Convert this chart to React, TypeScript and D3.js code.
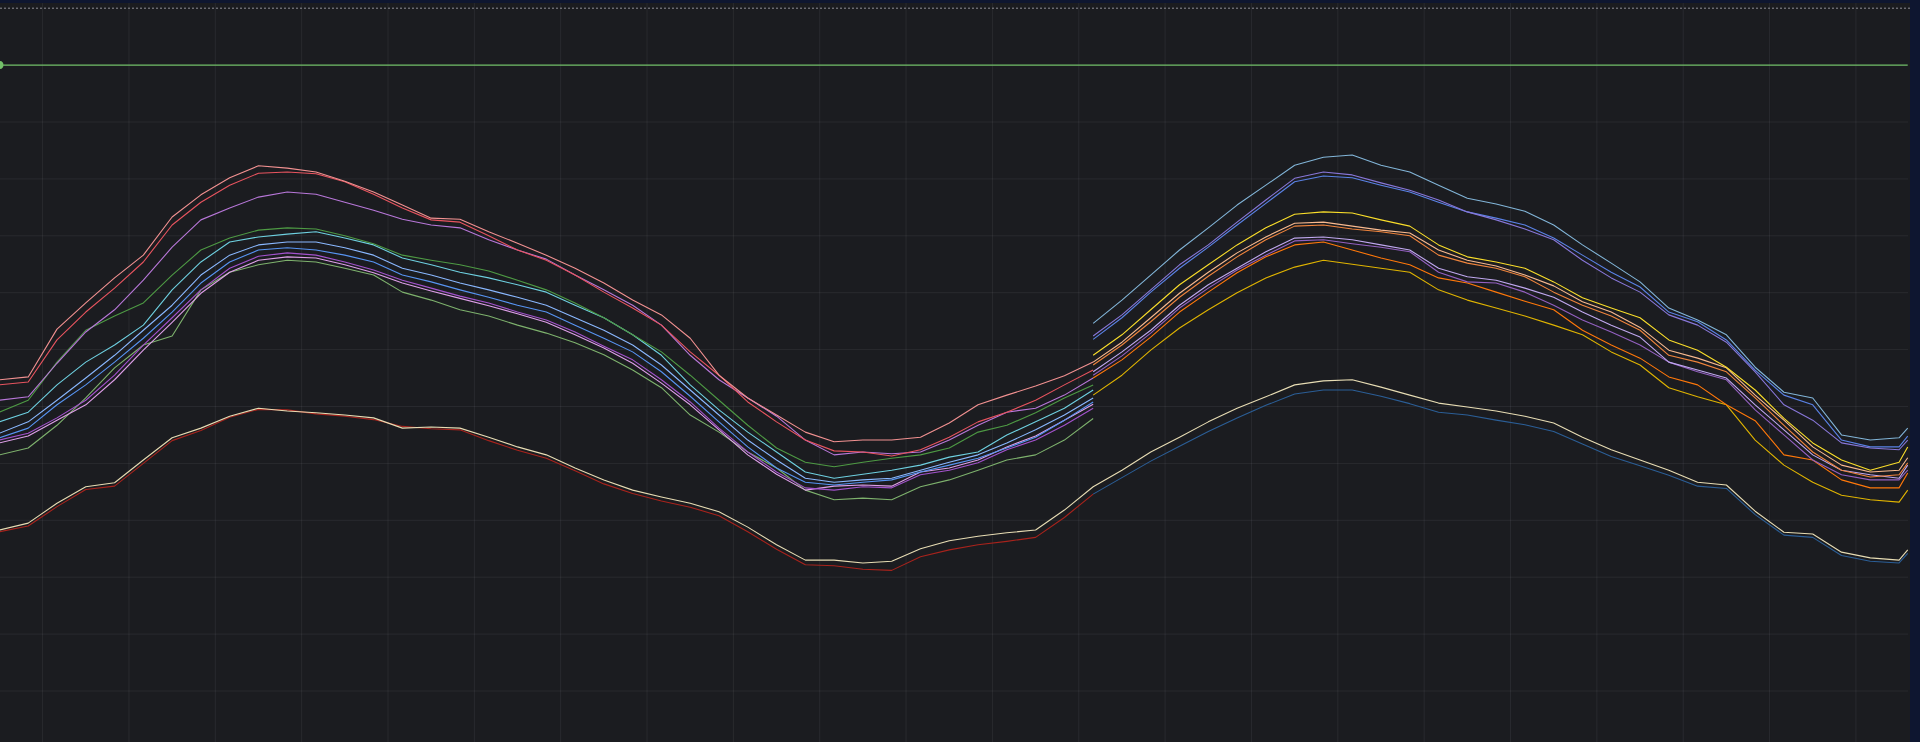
import React from 'react';
import * as d3 from 'd3';

// ---- time samples (minutes) ----
const sampleTimes: number[] = d3.range(15, 676, 10).concat([678]);
const LEFT_START = 0;   // index of first sample for left-hand series
const RIGHT_START = 38; // index of first sample for right-hand series

// ---- reference lines ----
const limitValue = 110;
const upperThreshold = 120;

// ---- left-hand series (samples 0..38) ----
const sSalmon = [54.7,55.2,63.6,68.2,72.6,76.6,83.3,87.2,90.2,92.3,91.9,91.2,89.6,87.7,85.4,83.1,82.9,80.7,78.7,76.6,74.3,71.7,68.7,66.1,62.0,55.5,51.5,48.5,45.5,43.8,44.1,44.1,44.6,47.1,50.3,52.0,53.6,55.4,57.8];
const sRed = [53.8,54.3,61.7,66.6,70.8,75.4,81.9,85.9,88.9,91.0,91.2,90.9,89.5,87.3,84.9,82.8,82.4,80.0,77.5,75.7,73.1,70.1,67.3,64.3,59.6,55.5,50.8,47.3,44.1,42.2,42.0,41.3,42.4,44.6,47.3,49.0,51.1,53.8,56.4];
const sOrchid = [51.1,51.7,57.6,63.1,67.0,72.2,78.0,82.8,84.9,86.8,87.7,87.3,85.9,84.5,82.9,81.9,81.4,79.3,77.5,75.9,73.1,70.5,67.8,64.3,59.0,54.7,51.5,48.3,44.1,41.5,42.0,41.7,42.0,44.1,46.7,49.0,49.7,52.0,55.0];
const sDarkGreen = [49.0,51.1,57.8,63.4,65.9,68.2,73.1,77.5,79.6,81.0,81.4,81.2,80.0,78.6,76.6,75.7,74.9,73.8,72.2,70.5,68.2,65.6,62.6,59.6,55.5,51.1,46.7,42.7,40.2,39.4,40.2,40.9,41.5,42.7,45.5,46.7,48.9,51.5,53.8];
const sCyan = [47.3,49.0,53.8,57.8,60.8,64.3,70.5,75.4,78.9,79.8,80.3,80.7,79.6,78.4,76.1,74.9,73.6,72.6,71.4,70.1,67.8,65.6,62.6,59.0,53.8,49.4,45.5,42.0,38.5,37.4,38.1,38.8,39.7,41.1,42.0,45.0,47.3,49.7,52.9];
const sLightBlue = [45.3,47.3,51.1,55.0,59.0,63.4,67.8,73.1,76.6,78.4,78.9,78.9,77.9,76.6,74.3,73.1,71.7,70.5,69.2,67.8,65.6,63.4,60.8,57.3,52.9,48.5,44.1,40.6,37.4,36.7,37.1,37.4,38.8,40.2,41.5,43.6,45.9,48.5,51.5];
const sBlue = [44.5,46.2,50.3,53.8,57.8,62.0,66.6,71.7,75.4,77.5,77.9,77.5,76.6,75.4,73.1,71.9,70.5,69.2,67.8,66.6,64.3,62.0,59.6,56.1,51.8,47.3,42.9,39.2,36.7,36.2,36.7,37.1,38.5,39.7,40.9,42.7,44.6,47.6,50.8];
const sViolet = [44.1,45.3,48.0,51.1,55.5,60.8,65.6,70.5,74.3,76.4,77.0,76.6,75.4,74.0,72.2,70.8,69.4,68.2,66.6,65.2,63.1,60.6,58.2,54.7,50.8,46.2,42.0,38.5,35.7,35.3,35.9,35.7,38.0,38.8,40.1,42.4,44.1,46.7,49.7];
const sPink = [43.6,44.8,47.6,50.3,54.7,59.9,64.8,69.9,73.6,75.7,76.3,76.1,74.9,73.5,71.7,70.3,69.0,67.7,66.3,64.8,62.6,60.3,57.6,54.1,50.3,45.9,41.5,38.1,35.3,36.0,36.2,36.0,38.5,39.2,40.6,42.9,44.8,47.6,50.4];
const sLightGreen = [41.5,42.7,46.7,51.5,56.8,60.8,62.4,70.5,73.6,74.9,75.7,75.4,74.3,73.1,70.1,68.7,67.0,65.9,64.3,62.9,61.2,59.1,56.4,53.3,48.5,45.5,42.0,39.2,35.3,33.6,33.9,33.6,35.9,37.1,38.8,40.6,41.5,44.1,47.9];

// ---- right-hand series (samples 38..67) ----
const rSteel = [64.6,68.7,73.1,77.5,81.4,85.4,88.9,92.4,93.8,94.2,92.4,91.2,88.9,86.6,85.6,84.3,81.9,78.4,75.2,71.9,67.3,65.2,62.6,56.9,52.5,51.5,45.0,44.1,44.5,46.2];
const rIndigo = [62.4,66.1,70.5,74.9,78.4,82.4,86.3,90.1,91.2,90.7,89.3,88.0,86.3,84.2,82.8,81.2,79.3,75.7,72.6,70.1,66.1,64.3,61.3,56.1,50.3,47.6,43.6,42.7,42.4,44.1];
const rBlue = [61.8,65.6,70.1,74.3,78.0,81.9,85.7,89.5,90.5,90.2,88.9,87.7,85.9,84.2,83.1,81.9,79.6,76.6,73.6,71.0,66.6,64.9,61.7,56.4,52.0,50.3,44.1,42.9,42.9,44.8];
const rYellow = [59.0,62.6,67.0,71.4,74.9,78.4,81.4,83.8,84.2,84.0,82.8,81.7,78.4,76.3,75.4,74.3,71.9,69.1,67.3,65.6,61.7,59.9,56.9,52.9,47.9,43.6,40.6,38.8,40.2,42.9];
const rPeach = [57.8,61.3,65.6,69.9,73.6,77.0,79.8,82.2,82.4,81.7,81.0,80.5,77.5,75.7,74.7,73.1,71.2,68.4,66.6,63.9,59.9,58.5,56.8,52.0,47.6,42.9,39.7,38.5,38.8,41.0];
const rOrange = [57.3,60.8,64.9,69.2,72.9,76.3,79.3,81.7,81.9,81.2,80.7,80.0,76.6,75.2,74.3,72.8,70.1,67.8,65.9,63.4,59.0,57.8,56.1,51.5,46.7,42.0,38.8,37.6,38.0,40.1];
const rLavender = [56.1,59.6,63.4,67.8,71.4,74.3,77.2,79.6,79.8,79.3,78.4,77.5,74.3,72.8,72.2,70.8,69.2,66.6,64.3,62.2,57.8,56.4,55.0,50.3,45.9,41.5,38.8,38.0,37.4,39.7];
const rPurple = [55.5,58.9,62.9,67.3,70.8,74.0,76.6,79.1,79.3,78.6,78.0,77.2,73.6,71.9,71.7,70.1,67.8,65.2,63.1,60.8,57.8,56.1,54.7,49.4,45.0,40.6,38.0,37.1,37.1,38.8];
const rDeepOrange = [55.0,58.2,62.2,66.6,70.1,73.5,76.3,78.4,78.9,77.5,76.1,74.9,72.6,71.7,70.1,68.5,67.0,63.4,60.8,58.5,55.2,53.8,50.3,47.5,41.5,40.6,37.1,35.7,35.7,38.3];
const rGold = [52.0,55.5,59.9,63.8,67.0,70.0,72.6,74.5,75.7,75.0,74.3,73.6,70.5,68.7,67.3,65.9,64.3,62.6,59.6,57.3,53.3,51.7,50.3,44.1,39.7,36.7,34.4,33.6,33.2,35.3];

// ---- low pair ----
const lowCream = [28.3,29.5,33.0,35.9,36.6,40.6,44.5,46.2,48.3,49.7,49.2,48.9,48.5,48.0,46.2,46.4,46.2,44.6,42.9,41.5,39.2,37.1,35.3,34.1,33.0,31.5,28.8,25.7,23.0,23.0,22.5,22.8,25.0,26.4,27.2,27.8,28.3,31.8,35.9,38.8,42.0,44.6,47.3,49.7,51.7,53.8,54.5,54.7,53.4,52.0,50.6,49.9,49.2,48.3,47.1,44.6,42.4,40.6,38.8,36.7,36.2,31.6,27.9,27.6,24.4,23.4,23.0,24.8];
const lowDarkRed = [28.0,29.0,32.4,35.4,36.0,40.0,44.0,45.8,48.1,49.5,49.4,48.7,48.3,47.7,46.5,46.1,45.9,44.0,42.3,40.9,38.7,36.4,34.7,33.4,32.3,30.8,28.0,24.9,22.2,22.0,21.4,21.2,23.6,24.8,25.7,26.3,27.0,30.5,34.6];
const lowDarkBlue = [34.6,37.5,40.4,43.0,45.6,48.0,50.2,52.2,52.9,52.9,51.8,50.5,49.0,48.5,47.6,46.8,45.6,43.4,41.2,39.6,37.9,36.0,35.6,31.0,27.4,27.0,23.8,22.8,22.5,24.2];

type SeriesDef = { name: string; color: string; values: number[]; start: number };

const series: SeriesDef[] = [
  { name: 'low-darkred', color: '#A8231C', values: lowDarkRed, start: LEFT_START },
  { name: 'low-darkblue', color: '#2B5E96', values: lowDarkBlue, start: RIGHT_START },
  { name: 'low-cream', color: '#E8DDB4', values: lowCream, start: LEFT_START },
  { name: 'l-lightgreen', color: '#7EB26D', values: sLightGreen, start: LEFT_START },
  { name: 'l-pink', color: '#DE9FE8', values: sPink, start: LEFT_START },
  { name: 'l-violet', color: '#A352CC', values: sViolet, start: LEFT_START },
  { name: 'l-blue', color: '#5794F2', values: sBlue, start: LEFT_START },
  { name: 'l-lightblue', color: '#8AB8FF', values: sLightBlue, start: LEFT_START },
  { name: 'l-cyan', color: '#6ED0E0', values: sCyan, start: LEFT_START },
  { name: 'l-darkgreen', color: '#4E9A44', values: sDarkGreen, start: LEFT_START },
  { name: 'l-orchid', color: '#B877D9', values: sOrchid, start: LEFT_START },
  { name: 'l-red', color: '#E8545F', values: sRed, start: LEFT_START },
  { name: 'l-salmon', color: '#F29191', values: sSalmon, start: LEFT_START },
  { name: 'r-gold', color: '#E0B400', values: rGold, start: RIGHT_START },
  { name: 'r-deeporange', color: '#FF780A', values: rDeepOrange, start: RIGHT_START },
  { name: 'r-purple', color: '#9360C0', values: rPurple, start: RIGHT_START },
  { name: 'r-lavender', color: '#C0A8F0', values: rLavender, start: RIGHT_START },
  { name: 'r-orange', color: '#EF843C', values: rOrange, start: RIGHT_START },
  { name: 'r-peach', color: '#F9BA8F', values: rPeach, start: RIGHT_START },
  { name: 'r-yellow', color: '#FADE2A', values: rYellow, start: RIGHT_START },
  { name: 'r-blue', color: '#5A82E6', values: rBlue, start: RIGHT_START },
  { name: 'r-indigo', color: '#8877D9', values: rIndigo, start: RIGHT_START },
  { name: 'r-steel', color: '#82B5D8', values: rSteel, start: RIGHT_START },
];

const W = 1920;
const H = 742;
const PLOT_RIGHT = 1908;
const PANEL_RIGHT = 1910;

export default function App() {
  const x = d3.scaleLinear().domain([15.2, 678.1]).range([0, PLOT_RIGHT]);
  const y = d3.scaleLinear().domain([0, 120]).range([691, 8.2]);

  const gridX = d3.range(30, 678, 30);
  const gridY = d3.range(0, 101, 10);

  const line = d3
    .line<[number, number]>()
    .x((d) => x(d[0]))
    .y((d) => y(d[1]));

  React.useEffect(() => {
    document.body.style.margin = '0';
    document.body.style.background = '#0e1630';
  }, []);

  return (
    <svg
      width={W}
      height={H}
      style={{ position: 'fixed', left: 0, top: 0, display: 'block' }}
    >
      <rect x={0} y={0} width={W} height={H} fill="#0e1630" />
      <rect x={0} y={3} width={PANEL_RIGHT} height={H - 3} fill="#1b1c20" />
      <g stroke="rgba(204,204,220,0.08)" strokeWidth={1}>
        {gridX.map((t) => (
          <line key={'gx' + t} x1={x(t)} x2={x(t)} y1={3} y2={H} />
        ))}
        {gridY.map((v) => (
          <line key={'gy' + v} x1={0} x2={PLOT_RIGHT} y1={y(v)} y2={y(v)} />
        ))}
      </g>
      <line
        x1={0}
        x2={PANEL_RIGHT}
        y1={y(upperThreshold)}
        y2={y(upperThreshold)}
        stroke="#8e8e96"
        strokeWidth={1}
        strokeDasharray="2,2"
      />
      <g fill="none" strokeWidth={1.1} strokeLinejoin="round">
        {series.map((s) => {
          const pts: [number, number][] = s.values.map((v, i) => [sampleTimes[s.start + i], v]);
          return <path key={s.name} d={line(pts) || ''} stroke={s.color} />;
        })}
      </g>
      <line
        x1={x(sampleTimes[0])}
        x2={x(sampleTimes[sampleTimes.length - 1])}
        y1={y(limitValue)}
        y2={y(limitValue)}
        stroke="#73BF69"
        strokeWidth={1.2}
      />
      <circle cx={x(sampleTimes[0])} cy={y(limitValue)} r={4} fill="#73BF69" />
    </svg>
  );
}
